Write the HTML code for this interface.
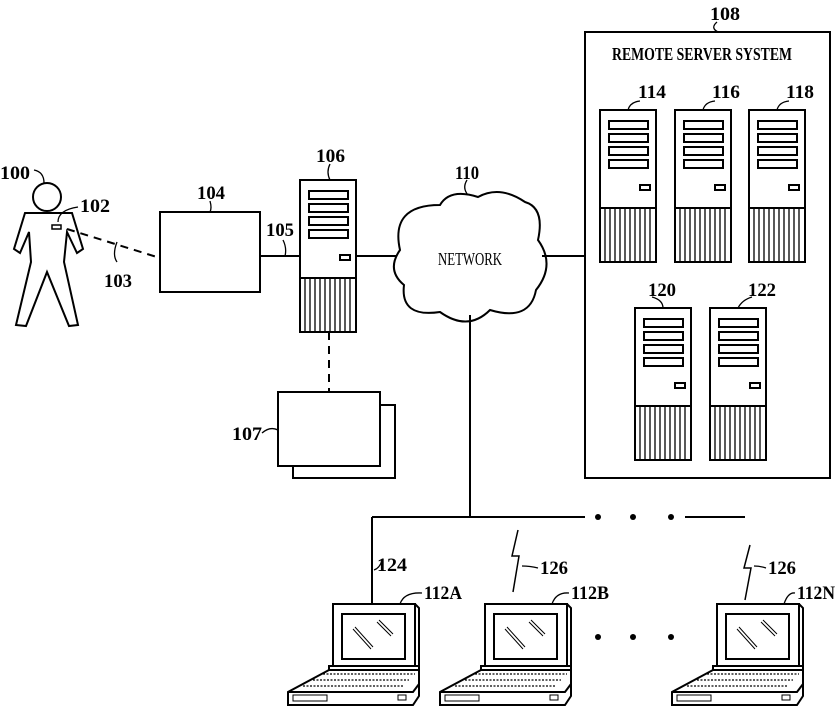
<!DOCTYPE html>
<html><head><style>body{margin:0;background:#fff}svg{display:block}text{font-family:"Liberation Serif",serif;fill:#000;stroke:none}</style></head><body>
<svg width="835" height="711" viewBox="0 0 835 711" xmlns="http://www.w3.org/2000/svg" fill="none" stroke="#000" stroke-width="2">
<defs>
<g id="srv">
<rect x="0" y="0" width="56" height="152" fill="#fff"/>
<line x1="0" y1="98" x2="56" y2="98"/>
<rect x="9" y="11" width="39" height="8"/><rect x="9" y="24" width="39" height="8"/><rect x="9" y="37" width="39" height="8"/><rect x="9" y="50" width="39" height="8"/>
<rect x="40" y="75" width="10" height="5"/>
<path d="M5,98V152M10,98V152M15,98V152M20,98V152M25,98V152M30,98V152M35,98V152M40,98V152M45,98V152M50,98V152" stroke-width="1.3"/>
</g>
<g id="lap">
<rect x="0" y="0" width="82" height="62" fill="#fff"/>
<rect x="9" y="10" width="63" height="45"/>
<path d="M20,25 L38,45 M22,23 L40,43 M44,18 L58,32 M46,16 L60,30" stroke-width="1"/>
<path d="M82,0 L86,4 L86,62 M-4,62 L86,62 L86,66 L-4,66 Z"/>
<path d="M-4,66 L-45,88 L-45,101 L80,101 L86,92 L86,66 M-45,88 L80,88 L86,80" />
<path d="M-30,82 L70,82 M-20,76 L76,76 M-10,70 L82,70" stroke-width="1.2" stroke-dasharray="2,1.5"/>
<rect x="-40" y="91" width="34" height="6" stroke-width="1"/>
<rect x="65" y="91" width="8" height="5" stroke-width="1"/>
</g>
</defs>
<g font-size="19" font-weight="bold">
<!-- person -->
<circle cx="47" cy="197" r="14"/>
<path d="M25,213 L72,213 L83,249 L77,253 L67,232 L64,262 L78,325 L69,326 L47,272 L26,326 L16,325 L31,262 L29,232 L20,253 L14,249 Z"/>
<rect x="52" y="225" width="9" height="4" stroke-width="1.5"/>
<path d="M34,170 Q44,172 44,183" stroke-width="1.3"/>
<path d="M58,222 Q58,210 78,207" stroke-width="1.3"/>
<line x1="67" y1="229" x2="160" y2="258" stroke-dasharray="8,6"/>
<path d="M117,242 Q112,255 117,262" stroke-width="1.3"/>
<text x="0" y="179" textLength="30" lengthAdjust="spacingAndGlyphs">100</text>
<text x="80" y="212" textLength="30" lengthAdjust="spacingAndGlyphs">102</text>
<text x="104" y="287" textLength="28" lengthAdjust="spacingAndGlyphs">103</text>
<!-- 104 -->
<rect x="160" y="212" width="100" height="80"/>
<text x="197" y="199" textLength="28" lengthAdjust="spacingAndGlyphs">104</text>
<path d="M210,201 Q212,208 210,212" stroke-width="1.3"/>
<line x1="260" y1="256" x2="300" y2="256"/>
<text x="266" y="236" textLength="28" lengthAdjust="spacingAndGlyphs">105</text>
<path d="M283,240 Q287,248 285,256" stroke-width="1.3"/>
<!-- 106 -->
<use href="#srv" x="300" y="180"/>
<text x="316" y="162" textLength="29" lengthAdjust="spacingAndGlyphs">106</text>
<path d="M330,164 Q326,172 330,180" stroke-width="1.3"/>
<line x1="329" y1="332" x2="329" y2="392" stroke-dasharray="8,6"/>
<rect x="293" y="405" width="102" height="73"/>
<rect x="278" y="392" width="102" height="74" fill="#fff"/>
<text x="232" y="440" textLength="30" lengthAdjust="spacingAndGlyphs">107</text>
<path d="M262,433 Q270,426 278,430" stroke-width="1.3"/>
<line x1="357" y1="256" x2="398" y2="256"/>
<!-- cloud -->
<path d="M400,250 Q390,205 440,205 Q450,188 478,197 Q500,185 525,202 Q545,208 538,240 Q556,265 536,290 Q530,322 490,310 Q468,332 440,312 Q400,318 404,285 Q386,270 400,250 Z" fill="#fff"/>
<text x="438" y="265" font-family="Liberation Sans" font-weight="normal" font-size="18" textLength="64" lengthAdjust="spacingAndGlyphs">NETWORK</text>
<text x="455" y="179" textLength="24" lengthAdjust="spacingAndGlyphs">110</text>
<path d="M467,180 Q462,188 468,195" stroke-width="1.3"/>
<line x1="542" y1="256" x2="585" y2="256"/>
<line x1="470" y1="315" x2="470" y2="517"/>
<line x1="372" y1="517" x2="585" y2="517"/>
<line x1="685" y1="517" x2="745" y2="517"/>
<g fill="#000" stroke="none"><circle cx="598" cy="517" r="3"/><circle cx="633" cy="517" r="3"/><circle cx="671" cy="517" r="3"/>
<circle cx="598" cy="637" r="3"/><circle cx="633" cy="637" r="3"/><circle cx="671" cy="637" r="3"/></g>
<line x1="372" y1="517" x2="372" y2="604"/>
<!-- remote -->
<rect x="585" y="32" width="245" height="446"/>
<text x="612" y="60" font-size="18" textLength="180" lengthAdjust="spacingAndGlyphs">REMOTE SERVER SYSTEM</text>
<text x="710" y="20" textLength="30" lengthAdjust="spacingAndGlyphs">108</text>
<path d="M717,22 Q710,28 718,32" stroke-width="1.3"/>
<use href="#srv" x="600" y="110"/><use href="#srv" x="675" y="110"/><use href="#srv" x="749" y="110"/>
<use href="#srv" x="635" y="308"/><use href="#srv" x="710" y="308"/>
<text x="638" y="98" textLength="28" lengthAdjust="spacingAndGlyphs">114</text>
<text x="712" y="98" textLength="28" lengthAdjust="spacingAndGlyphs">116</text>
<text x="786" y="98" textLength="28" lengthAdjust="spacingAndGlyphs">118</text>
<text x="648" y="296" textLength="28" lengthAdjust="spacingAndGlyphs">120</text>
<text x="748" y="296" textLength="28" lengthAdjust="spacingAndGlyphs">122</text>
<path d="M628,110 Q630,102 640,101 M703,110 Q705,102 715,101 M777,110 Q779,102 789,101 M663,308 Q663,300 652,297 M738,308 Q742,300 752,297" stroke-width="1.3"/>
<!-- laptops -->
<use href="#lap" x="333" y="604"/>
<use href="#lap" x="485" y="604"/>
<use href="#lap" x="717" y="604"/>
<text x="377" y="571" textLength="30" lengthAdjust="spacingAndGlyphs">124</text>
<path d="M374,570 Q380,568 382,560" stroke-width="1.3"/>
<text x="424" y="599" textLength="38" lengthAdjust="spacingAndGlyphs">112A</text>
<text x="571" y="599" textLength="38" lengthAdjust="spacingAndGlyphs">112B</text>
<text x="797" y="599" textLength="38" lengthAdjust="spacingAndGlyphs">112N</text>
<path d="M400,604 Q404,592 422,593 M552,604 Q556,592 569,593 M784,604 Q788,592 795,593" stroke-width="1.3"/>
<path d="M518,530 L512,556 L519,556 L513,592" stroke-width="1.5"/>
<path d="M750,545 L744,568 L751,568 L745,600" stroke-width="1.5"/>
<text x="540" y="574" textLength="28" lengthAdjust="spacingAndGlyphs">126</text>
<text x="768" y="574" textLength="28" lengthAdjust="spacingAndGlyphs">126</text>
<path d="M522,566 Q530,566 538,568 M754,566 Q760,566 766,568" stroke-width="1.3"/>
</g>
</svg>
</body></html>
